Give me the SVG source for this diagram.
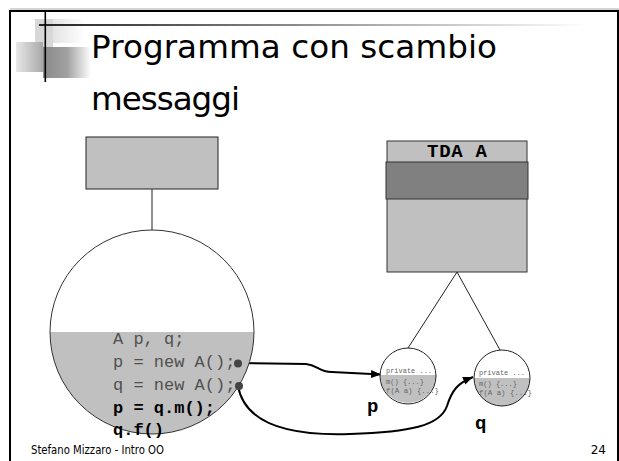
<svg xmlns="http://www.w3.org/2000/svg" width="619" height="461" viewBox="0 0 619 461">
<style>
.code{font-family:"Liberation Mono","Courier New",monospace;font-size:17px;fill:#505050}
.codeb{font-family:"Liberation Mono","Courier New",monospace;font-size:17px;font-weight:bold;fill:#000}
.tiny{font-family:"Liberation Mono","Courier New",monospace;font-size:7.5px;fill:#666}
.lbl{font-family:"Liberation Mono","Courier New",monospace;font-size:19px;font-weight:bold;fill:#000}
.title{font-family:"DejaVu Sans","Noto Sans",sans-serif;font-size:32.6px;fill:#000}
.foot{font-family:"DejaVu Sans","Noto Sans",sans-serif;font-size:12px;fill:#000}
.gray{fill:#c0c0c0}
.edge{fill:none;stroke:#000;stroke-width:2}
.thin{fill:none;stroke:#222;stroke-width:1}
</style>
<defs>
<marker id="arr" markerUnits="userSpaceOnUse" markerWidth="11" markerHeight="9" refX="10" refY="4" orient="auto">
<path d="M0,0 L10,4 L0,8 Z" fill="#000"/>
</marker>
<linearGradient id="gTop" x1="0" y1="0" x2="1" y2="0"><stop offset="0" stop-color="#d4d4d4"/><stop offset="1" stop-color="#fff"/></linearGradient>
<linearGradient id="gMid" x1="0" y1="0" x2="1" y2="0"><stop offset="0" stop-color="#e8e8e8"/><stop offset="1" stop-color="#a8a8a8"/></linearGradient>
<linearGradient id="gDark" x1="0" y1="0" x2="1" y2="0"><stop offset="0" stop-color="#8a8a8a"/><stop offset="0.5" stop-color="#a0a0a0"/><stop offset="1" stop-color="#fff"/></linearGradient>
<linearGradient id="gLine" x1="0" y1="0" x2="1" y2="0"><stop offset="0" stop-color="#222"/><stop offset="0.6" stop-color="#aaa"/><stop offset="1" stop-color="#fff"/></linearGradient>
</defs>
<rect width="619" height="461" fill="#fff"/>
<g id="frame">
<line x1="10" y1="9" x2="619" y2="9" stroke="#aaa" stroke-width="1"/>
<line x1="9" y1="11" x2="619" y2="11" stroke="#000" stroke-width="2"/>
<line x1="10" y1="10" x2="10" y2="461" stroke="#000" stroke-width="2"/>
<line x1="618" y1="10" x2="618" y2="461" stroke="#000" stroke-width="2"/>
</g>
<g id="decoration">
<rect x="35" y="19" width="50" height="24" fill="url(#gTop)"/>
<rect x="35" y="19" width="18" height="53" fill="#d8d8d8"/>
<rect x="16" y="42" width="27" height="30" fill="url(#gMid)"/>
<rect x="43" y="47" width="48" height="31" fill="url(#gDark)"/>
<rect x="39" y="24" width="550" height="2" fill="url(#gLine)"/>
<line x1="45.3" y1="10" x2="45.3" y2="82" stroke="#000" stroke-width="1.6"/>
</g>
<g id="title">
<text class="title" x="91" y="58" textLength="406">Programma con scambio</text>
<text class="title" x="91" y="110" textLength="149">messaggi</text>
</g>
<g id="connectors">
<line class="thin" x1="152" y1="189" x2="152" y2="230" stroke-width="2"/>
<line class="thin" x1="457" y1="272" x2="408" y2="348"/>
<line class="thin" x1="457" y1="272" x2="500" y2="350"/>
<path class="edge" d="M237,363 L306,364 C318,365 318,372 332,372 L381,374.5" marker-end="url(#arr)"/>
<path class="edge" d="M238,386 C245,425 290,436 350,434 C410,432 440,426 447,406 C452,390 458,383 473,377" marker-end="url(#arr)"/>
</g>
<g id="module">
<rect class="gray" x="86" y="137" width="132" height="52" stroke="#222" stroke-width="1"/>
</g>
<g id="program">
<circle cx="152" cy="332" r="102" fill="#fff"/>
<path class="gray" d="M50,332 A102,102 0 0 0 254,332 Z"/>
<circle cx="152" cy="332" r="102" fill="none" stroke="#333" stroke-width="1"/>
<text class="code" x="113" y="344">A p, q;</text>
<text class="code" x="113" y="367">p = new A();</text>
<text class="code" x="113" y="390">q = new A();</text>
<text class="codeb" x="113" y="413">p = q.m();</text>
<text class="codeb" x="113" y="435">q.f()</text>
<circle cx="238" cy="363.5" r="4" fill="#444"/>
<circle cx="239" cy="386" r="4" fill="#444"/>
</g>
<g id="tda">
<rect class="gray" x="387" y="141" width="140" height="131" stroke="#333" stroke-width="1"/>
<rect x="386" y="162" width="142" height="37" fill="#808080" stroke="#333" stroke-width="1"/>
<text class="lbl" x="457" y="157" text-anchor="middle" textLength="60">TDA A</text>
</g>
<g id="obj-p">
<circle cx="408" cy="376" r="28" fill="#fff"/>
<path class="gray" d="M380,375 A28,28 0 0 0 436,375 Z"/>
<circle cx="408" cy="376" r="28" fill="none" stroke="#222" stroke-width="1"/>
<text class="tiny" x="386" y="373" textLength="46" lengthAdjust="spacingAndGlyphs">private ...</text>
<text class="tiny" x="386" y="384" textLength="38" lengthAdjust="spacingAndGlyphs">m() {...}</text>
<text class="tiny" x="386" y="393" textLength="53" lengthAdjust="spacingAndGlyphs">f(A a) {...}</text>
<text class="lbl" x="367" y="412">p</text>
</g>
<g id="obj-q">
<circle cx="502" cy="378" r="28" fill="#fff"/>
<path class="gray" d="M474,378 A28,28 0 0 0 530,378 Z"/>
<circle cx="502" cy="378" r="28" fill="none" stroke="#222" stroke-width="1"/>
<text class="tiny" x="479" y="375" textLength="46" lengthAdjust="spacingAndGlyphs">private ...</text>
<text class="tiny" x="479" y="386" textLength="38" lengthAdjust="spacingAndGlyphs">m() {...}</text>
<text class="tiny" x="479" y="395" textLength="53" lengthAdjust="spacingAndGlyphs">f(A a) {...}</text>
<text class="lbl" x="475" y="429">q</text>
</g>
<g id="footer">
<text class="foot" x="31" y="454" textLength="133" lengthAdjust="spacingAndGlyphs">Stefano Mizzaro - Intro OO</text>
<text class="foot" x="606" y="454" text-anchor="end">24</text>
</g>
</svg>
